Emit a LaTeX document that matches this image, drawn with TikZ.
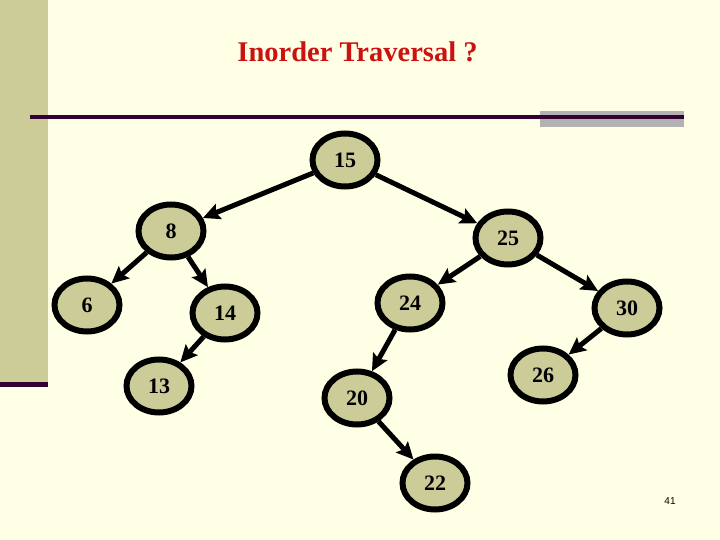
\documentclass[tikz,border=0pt]{standalone}
\usepackage{fontspec}
\setmainfont{Liberation Serif}
\newfontfamily\pagefont{Liberation Sans}
\usetikzlibrary{arrows.meta,shapes.geometric}
\definecolor{slidebg}{RGB}{255,255,230}
\definecolor{khaki}{RGB}{204,204,153}
\definecolor{plum}{RGB}{51,0,51}
\definecolor{titlered}{RGB}{204,17,17}
\definecolor{bargrey}{RGB}{178,178,178}

\begin{document}
\begin{tikzpicture}[x=1pt,y=-1pt,
		key/.style={ellipse,draw=black,fill=khaki,line width=6pt,%
			minimum width=65pt,minimum height=53pt,inner sep=0pt,%
			font=\bfseries\fontsize{22}{22}\selectfont},
		link/.style={line width=5pt,-{Stealth[length=17pt,width=16pt,inset=3pt]}}]
			% slide frame
			\fill[slidebg] (0,0) rectangle (720,540);
			\useasboundingbox (0,0) rectangle (720,540);
			\fill[khaki] (0,0) rectangle (48,382);
			\fill[plum] (0,382) rectangle (48,387);
			\fill[bargrey] (540,111) rectangle (684,127);
			\fill[plum] (30,115.5) rectangle (684,119);
			
			\node[anchor=base,text=titlered,font=\bfseries\fontsize{28.5}{28.5}\selectfont] (title) at (357.5,62) {Inorder Traversal ?};
			
			% tree
			\node[key] (n15) at (345,160) {15};
			\node[key] (n8) at (171,231) {8};
			\node[key] (n25) at (508,238) {25};
			\node[key] (n6) at (87,305) {6};
			\node[key] (n14) at (225,313) {14};
			\node[key] (n24) at (410,303) {24};
			\node[key] (n30) at (627,308) {30};
			\node[key] (n13) at (159,386) {13};
			\node[key] (n20) at (357,398) {20};
			\node[key] (n26) at (543,375) {26};
			\node[key] (n22) at (435,483) {22};
			
			\draw[link] (n15)--(n8);
			\draw[link] (n15)--(n25);
			\draw[link] (n8)--(n6);
			\draw[link] (n8)--(n14);
			\draw[link] (n14)--(n13);
			\draw[link] (n25)--(n24);
			\draw[link] (n25)--(n30);
			\draw[link] (n24)--(n20);
			\draw[link] (n20)--(n22);
			\draw[link] (n30)--(n26);
			
			\node[font=\pagefont\fontsize{10}{10}\selectfont] (page) at (670,501) {41};
		\end{tikzpicture}
\end{document}
